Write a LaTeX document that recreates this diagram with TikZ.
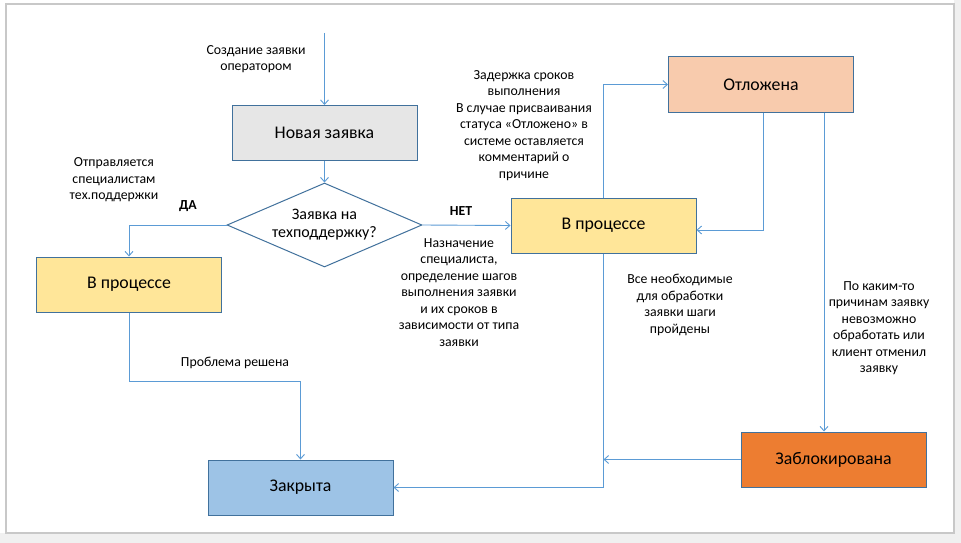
\documentclass[tikz,border=0pt]{standalone}
\usepackage{fontspec}
\setmainfont{Carlito}
\usetikzlibrary{arrows.meta,shapes.geometric}
\definecolor{lineblue}{HTML}{5B9BD5}
\definecolor{bordblue}{HTML}{41719C}
\definecolor{fgray}{HTML}{E6E6E6}
\definecolor{fyellow}{HTML}{FFE699}
\definecolor{fpeach}{HTML}{F8CBAD}
\definecolor{forange}{HTML}{ED7D31}
\definecolor{fblue}{HTML}{9DC3E6}
\definecolor{framegray}{HTML}{C8C8C8}
\definecolor{outgray}{HTML}{F0F0F0}
\tikzset{
  statebox/.style={draw=bordblue, line width=1pt, minimum width=185pt, minimum height=55pt, inner sep=0pt, font=\fontsize{17.8}{21}\selectfont},
  lbl/.style={align=center, inner sep=0pt, font=\fontsize{13.8}{16.5}\selectfont},
  conn/.style={draw=lineblue, line width=0.9pt, -{Straight Barb[length=4.5pt,width=8pt]}},
}
\begin{document}
\begin{tikzpicture}[x=1pt,y=-1pt]
\useasboundingbox (0,0) rectangle (961,543);
\fill[white] (0,0) rectangle (961,543);
\fill[outgray] (954,0) rectangle (961,543);
\fill[outgray] (0,533) rectangle (961,543);
\draw[framegray, line width=1.5pt] (6,4) rectangle (954,533);

% nodes
\node[statebox, fill=fgray] (new) at (324.5,133) {Новая заявка};
\node[diamond, draw=bordblue, line width=1pt, minimum width=195pt, minimum height=84pt, inner sep=0pt] (dia) at (324.5,225) {};
\node[lbl, font=\fontsize{16}{18}\selectfont] (diatext) at (dia.center) {Заявка на\\техподдержку?};
\node[statebox, fill=fyellow] (pl) at (129,284.5) {В процессе};
\node[statebox, fill=fyellow] (pc) at (603.5,225.5) {В процессе};
\node[statebox, fill=fpeach] (ot) at (761,84.5) {Отложена};
\node[statebox, fill=forange] (blk) at (833.5,459.5) {Заблокирована};
\node[statebox, fill=fblue] (cl) at (300.5,487.5) {Закрыта};
\coordinate (start) at (324.5,33);

% labels
\node[lbl] (l1) at (256,59) {Создание заявки\\оператором};
\node[lbl] (l2) at (114,180) {Отправляется\\специалистам\\тех.поддержки};
\node[lbl, font=\fontsize{13.8}{15}\bfseries] (lda) at (188,206) {ДА};
\node[lbl, font=\fontsize{13.8}{15}\bfseries] (lnet) at (461,211) {НЕТ};
\node[lbl] (l3) at (524,125.5) {Задержка сроков\\выполнения\\В случае присваивания\\статуса «Отложено» в\\системе оставляется\\комментарий о\\причине};
\node[lbl] (l4) at (459,292.5) {Назначение\\специалиста,\\определение шагов\\выполнения заявки\\и их сроков в\\зависимости от типа\\заявки};
\node[lbl] (l5) at (680,305) {Все необходимые\\для обработки\\заявки шаги\\пройдены};
\node[lbl] (l6) at (879,328) {По каким-то\\причинам заявку\\невозможно\\обработать или\\клиент отменил\\заявку};
\node[lbl] (l7) at (235,363) {Проблема решена};

% connectors
\draw[conn] (start) -- (new.north);
\draw[conn] (new.south) -- (dia.north);
\draw[conn] (dia.west) -| (pl.north);
\draw[conn] (dia.east) -- (pc.west);
\draw[conn] (pc.north) |- (ot.west);
\draw[conn] ([xshift=2pt]ot.south) |- ([yshift=-4.5pt]pc.east);
\draw[conn] ([xshift=63pt]ot.south) -- ([xshift=63pt]ot.south |- blk.north);
\draw[conn] (blk.west) -- (blk.west -| pc.south);
\draw[conn] (pc.south) |- (cl.east);
\draw[conn] (pl.south) -- ++(0,69) -| (cl.north);
\end{tikzpicture}
\end{document}
